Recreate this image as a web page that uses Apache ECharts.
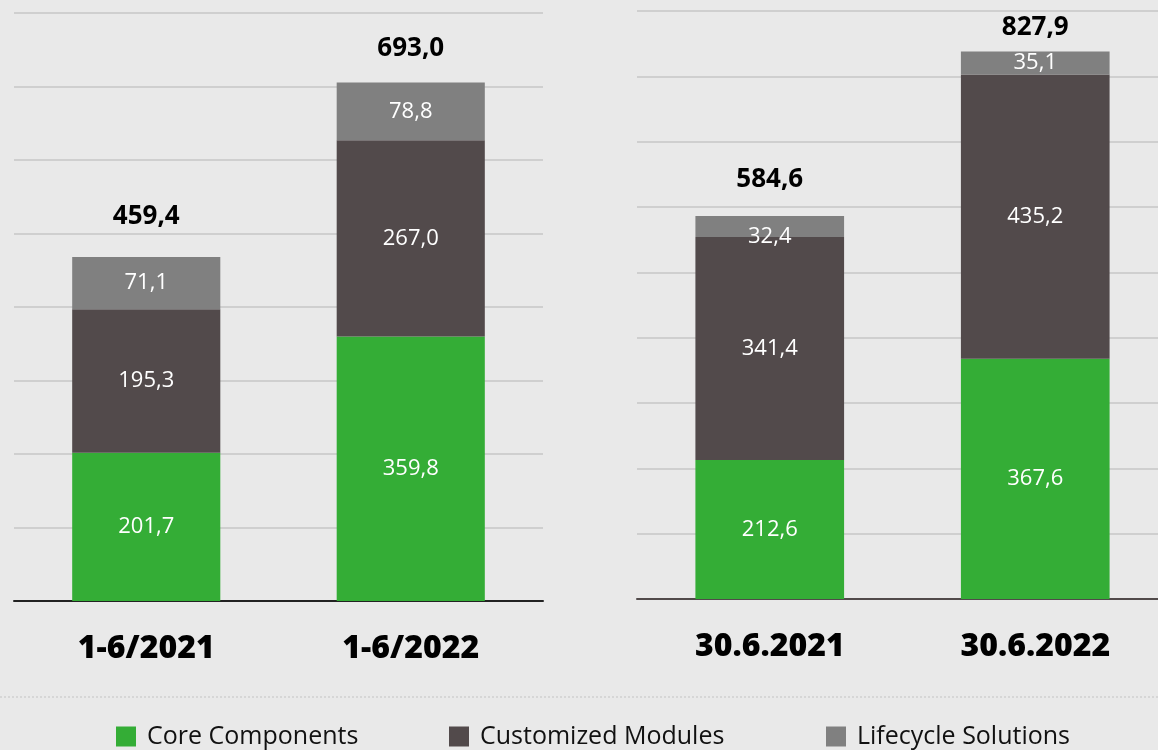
<!DOCTYPE html>
<html><head><meta charset="utf-8">
<script src="https://cdn.jsdelivr.net/npm/echarts@6/dist/echarts.min.js"></script>
<style>html,body{margin:0;padding:0;background:#e9e9e9}#c{width:1158px;height:750px}</style>
</head><body><div id="c"></div>
<script>
// ---- data ----
const periodCats = ['1-6/2021', '1-6/2022'];
const dateCats = ['30.6.2021', '30.6.2022'];
const seriesNames = ['Core Components', 'Customized Modules', 'Lifecycle Solutions'];
const periodCore = [201.7, 359.8];
const periodCustom = [195.3, 267.0];
const periodLife = [71.1, 78.8];
const periodTotal = [459.4, 693.0];
const dateCore = [212.6, 367.6];
const dateCustom = [341.4, 435.2];
const dateLife = [32.4, 35.1];
const dateTotal = [584.6, 827.9];
const periodAxis = { min: 0, max: 800, interval: 100 };
const dateAxis = { min: 0, max: 900, interval: 100 };

// ---- styling ----
const FONT = '"Open Sans", "Noto Sans", sans-serif';
const colors = ['#34ad36', '#524a4b', '#808080'];
const fmt = v => v.toFixed(1).replace('.', ',');

function segSeries(name, idx, data, axisIdx, stack, labelOffsets) {
  return {
    name: name, type: 'bar', stack: stack, xAxisIndex: axisIdx, yAxisIndex: axisIdx,
    barWidth: '56%', itemStyle: { color: colors[idx] },
    label: {
      show: true, position: 'inside', color: '#ffffff', fontFamily: FONT, fontSize: 22,
      formatter: p => fmt(p.value)
    },
    data: data.map((v, i) => {
      const o = { value: v };
      if (labelOffsets && labelOffsets[i]) o.label = { offset: labelOffsets[i] };
      return o;
    })
  };
}
function totalSeries(totals, axisIdx, stack, distances) {
  return {
    name: 'Total', type: 'bar', stack: stack, xAxisIndex: axisIdx, yAxisIndex: axisIdx,
    barWidth: '56%', itemStyle: { color: 'rgba(0,0,0,0)' }, silent: true,
    data: totals.map((t, i) => ({ value: 0, label: { distance: distances[i] } })),
    label: {
      show: true, position: 'top', color: '#000', fontFamily: FONT, fontSize: 26, fontWeight: 'bold',
      formatter: p => fmt(totals[p.dataIndex])
    }
  };
}
function xAx(cats, gridIndex, lineColor) {
  return {
    type: 'category', gridIndex: gridIndex, data: cats,
    axisTick: { show: false },
    axisLine: { lineStyle: { color: lineColor, width: 2 } },
    axisLabel: { color: '#000', fontFamily: FONT, fontSize: 32, fontWeight: 800, margin: 32 }
  };
}
function yAx(cfg, gridIndex) {
  return {
    type: 'value', gridIndex: gridIndex, min: cfg.min, max: cfg.max, interval: cfg.interval,
    axisLabel: { show: false }, axisLine: { show: false }, axisTick: { show: false },
    splitLine: { lineStyle: { color: '#c6c6c6', width: 1.5 } }
  };
}

const chart = echarts.init(document.getElementById('c'), null, { renderer: 'canvas' });
chart.setOption({
  animation: false,
  backgroundColor: '#e9e9e9',
  textStyle: { fontFamily: FONT },
  grid: [
    { left: 14, width: 529, top: 13, bottom: 149, outerBoundsMode: 'none', containLabel: false },
    { left: 637, width: 531, top: 11, bottom: 151, outerBoundsMode: 'none', containLabel: false }
  ],
  xAxis: [xAx(periodCats, 0, '#222222'), xAx(dateCats, 1, '#514a4a')],
  yAxis: [yAx(periodAxis, 0), yAx(dateAxis, 1)],
  legend: [0, 1, 2].map((i, k) => ({
    data: [seriesNames[i]], left: [116, 449, 826][k], top: 724, padding: 0,
    itemWidth: 20, itemHeight: 20, icon: 'rect',
    textStyle: { fontFamily: FONT, fontSize: 25, color: '#111', padding: [0, 0, 0, 6] }
  })),
  graphic: [{
    type: 'line', shape: { x1: 0, y1: 697, x2: 1158, y2: 697 },
    style: { stroke: '#c4c4c4', lineWidth: 1, lineDash: [2, 2] }
  }],
  series: [
    segSeries(seriesNames[0], 0, periodCore, 0, 'p'),
    segSeries(seriesNames[1], 1, periodCustom, 0, 'p'),
    segSeries(seriesNames[2], 2, periodLife, 0, 'p'),
    totalSeries(periodTotal, 0, 'p', [27, 21]),
    segSeries(seriesNames[0], 0, dateCore, 1, 'd'),
    segSeries(seriesNames[1], 1, dateCustom, 1, 'd'),
    segSeries(seriesNames[2], 2, dateLife, 1, 'd', [[0, 10], null]),
    totalSeries(dateTotal, 1, 'd', [23, 11])
  ]
});
</script></body></html>
